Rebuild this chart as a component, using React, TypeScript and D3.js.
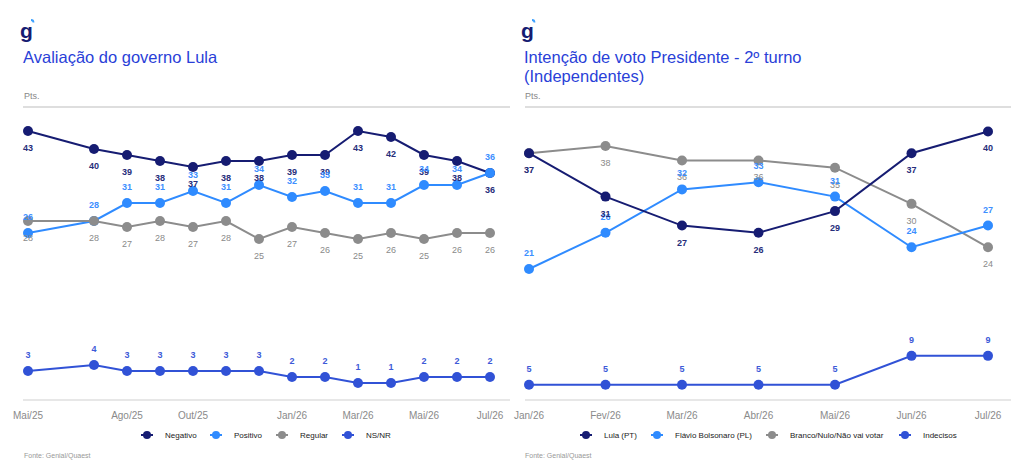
import * as d3 from 'd3';

// ── Left panel: Avaliação do governo Lula ──
const leftAxisMonths = ['Mai/25', 'Jun/25', 'Jul/25', 'Ago/25', 'Set/25', 'Out/25', 'Nov/25', 'Dez/25', 'Jan/26', 'Fev/26', 'Mar/26', 'Abr/26', 'Mai/26', 'Jun/26', 'Jul/26'];
const leftSurveys = ['Mai/25', 'Jul/25', 'Ago/25', 'Set/25', 'Out/25', 'Nov/25', 'Dez/25', 'Jan/26', 'Fev/26', 'Mar/26', 'Abr/26', 'Mai/26', 'Jun/26', 'Jul/26'];
const leftTicks = ['Mai/25', 'Ago/25', 'Out/25', 'Jan/26', 'Mar/26', 'Mai/26', 'Jul/26'];
const negativo = [43, 40, 39, 38, 37, 38, 38, 39, 39, 43, 42, 39, 38, 36];
const positivo = [26, 28, 31, 31, 33, 31, 34, 32, 33, 31, 31, 34, 34, 36];
const regular = [28, 28, 27, 28, 27, 28, 25, 27, 26, 25, 26, 25, 26, 26];
const nsnr = [3, 4, 3, 3, 3, 3, 3, 2, 2, 1, 1, 2, 2, 2];

// ── Right panel: Intenção de voto 2º turno (Independentes) ──
const rightMonths = ['Jan/26', 'Fev/26', 'Mar/26', 'Abr/26', 'Mai/26', 'Jun/26', 'Jul/26'];
const lula = [37, 31, 27, 26, 29, 37, 40];
const flavio = [21, 26, 32, 33, 31, 24, 27];
const branco = [37, 38, 36, 36, 35, 30, 24];
const indecisos = [5, 5, 5, 5, 5, 9, 9];

const NAVY = '#161c72';
const BLUE = '#2f8bff';
const GRAY = '#8c8c8c';
const ROYAL = '#3152d6';
const TITLE = '#2a3fd8';
const FONT = '"Liberation Sans", Arial, sans-serif';

interface Series {
  name: string;
  values: number[];
  color: string;
  labelColor: string;
  above: boolean;
  bold: boolean;
}

const leftSeries: Series[] = [
  { name: 'Negativo', values: negativo, color: NAVY, labelColor: '#262d7a', above: false, bold: true },
  { name: 'Positivo', values: positivo, color: BLUE, labelColor: '#3d8fff', above: true, bold: true },
  { name: 'Regular', values: regular, color: GRAY, labelColor: '#8a8a8a', above: false, bold: false },
  { name: 'NS/NR', values: nsnr, color: ROYAL, labelColor: '#3d5ad8', above: true, bold: true },
];

const rightSeries: Series[] = [
  { name: 'Lula (PT)', values: lula, color: NAVY, labelColor: '#262d7a', above: false, bold: true },
  { name: 'Flávio Bolsonaro (PL)', values: flavio, color: BLUE, labelColor: '#3d8fff', above: true, bold: true },
  { name: 'Branco/Nulo/Não vai votar', values: branco, color: GRAY, labelColor: '#8a8a8a', above: false, bold: false },
  { name: 'Indecisos', values: indecisos, color: ROYAL, labelColor: '#3d5ad8', above: true, bold: true },
];

// brand mark: a "g" with a small light-blue tick at its top right
function Logo({ x, y }: { x: number; y: number }) {
  return (
    <g>
      <text x={x} y={y} fontFamily={FONT} fontWeight={700} fontSize={21} fill={NAVY}>g</text>
      <path d={`M${x + 11},${y - 18} q2.5,0 2.5,2.5`} stroke="#3aa0ff" strokeWidth={1.8} fill="none" />
    </g>
  );
}

function Lines({ series, months, x, y, order }: {
  series: Series[]; months: string[]; x: d3.ScalePoint<string>; y: d3.ScaleLinear<number, number>; order: number[];
}) {
  const line = d3.line<number>().x((_, i) => x(months[i])!).y(v => y(v));
  return (
    <g>
      {order.map(k => {
        const s = series[k];
        return (
          <g key={s.name}>
            <path d={line(s.values)!} fill="none" stroke={s.color} strokeWidth={2} />
            {s.values.map((v, i) => (
              <circle key={i} cx={x(months[i])} cy={y(v)} r={5} fill={s.color} />
            ))}
          </g>
        );
      })}
      {order.map(k => {
        const s = series[k];
        return (
          <g key={s.name + '-lbl'}>
            {s.values.map((v, i) => (
              <text key={i} x={x(months[i])} y={y(v) + (s.above ? -13 : 20)} textAnchor="middle"
                fontFamily={FONT} fontSize={9} fontWeight={s.bold ? 700 : 400} fill={s.labelColor}>{v}</text>
            ))}
          </g>
        );
      })}
    </g>
  );
}

function Legend({ series, xs, y }: { series: Series[]; xs: number[]; y: number }) {
  return (
    <g>
      {series.map((s, i) => (
        <g key={s.name}>
          <line x1={xs[i] - 6} x2={xs[i] + 6} y1={y} y2={y} stroke={s.color} strokeWidth={2} />
          <circle cx={xs[i]} cy={y} r={4} fill={s.color} />
          <text x={xs[i] + 18} y={y + 3} fontFamily={FONT} fontSize={8} fill="#222">{s.name}</text>
        </g>
      ))}
    </g>
  );
}

export default function App() {
  // left scales (monthly axis, Jun/25 has no survey)
  const lx = d3.scalePoint<string>().domain(leftAxisMonths).range([28, 490]);
  const ly = d3.scaleLinear().domain([0, 45]).range([389, 119]);
  // right scales
  const rx = d3.scalePoint<string>().domain(rightMonths).range([529, 988]);
  const ry = d3.scaleLinear().domain([0, 42]).range([421, 117]);

  return (
    <svg width={1024} height={472} style={{ position: 'absolute', left: 0, top: 0, background: '#fff' }}>
      {/* ── Left panel ── */}
      <Logo x={20} y={38} />
      <text x={23} y={63} fontFamily={FONT} fontSize={16.5} fill={TITLE}>Avaliação do governo Lula</text>
      <text x={24} y={99} fontFamily={FONT} fontSize={9} fill="#888">Pts.</text>
      <line x1={23} x2={510} y1={107} y2={107} stroke="#bdbdbd" strokeWidth={1} />
      <line x1={23} x2={510} y1={400} y2={400} stroke="#cfcfcf" strokeWidth={1} />
      {leftTicks.map(t => (
        <text key={t} x={lx(t)} y={419} textAnchor="middle" fontFamily={FONT} fontSize={10} fill="#8a8a8a">{t}</text>
      ))}
      <Lines series={leftSeries} months={leftSurveys} x={lx} y={ly} order={[3, 0, 1, 2]} />
      <Legend series={leftSeries} xs={[147, 216, 282, 348]} y={435} />
      <text x={24} y={458} fontFamily={FONT} fontSize={7} fill="#999">Fonte: Genial/Quaest</text>

      {/* ── Right panel ── */}
      <Logo x={521} y={38} />
      <text x={524} y={63} fontFamily={FONT} fontSize={16.5} fill={TITLE}>Intenção de voto Presidente - 2º turno</text>
      <text x={524} y={82} fontFamily={FONT} fontSize={16.5} fill={TITLE}>(Independentes)</text>
      <text x={525} y={99} fontFamily={FONT} fontSize={9} fill="#888">Pts.</text>
      <line x1={525} x2={1011} y1={107} y2={107} stroke="#bdbdbd" strokeWidth={1} />
      <line x1={525} x2={1011} y1={400} y2={400} stroke="#cfcfcf" strokeWidth={1} />
      {rightMonths.map(t => (
        <text key={t} x={rx(t)} y={419} textAnchor="middle" fontFamily={FONT} fontSize={10} fill="#8a8a8a">{t}</text>
      ))}
      <Lines series={rightSeries} months={rightMonths} x={rx} y={ry} order={[3, 2, 1, 0]} />
      <Legend series={rightSeries} xs={[586, 657, 772, 905]} y={435} />
      <text x={525} y={458} fontFamily={FONT} fontSize={7} fill="#999">Fonte: Genial/Quaest</text>
    </svg>
  );
}
